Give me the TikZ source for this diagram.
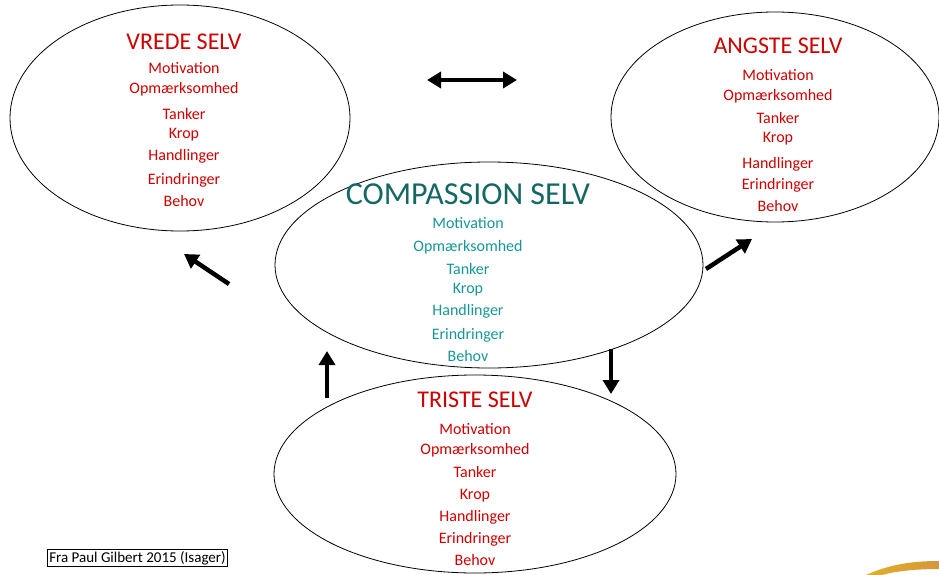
\documentclass[tikz,border=0pt]{standalone}
\usepackage{fontspec}
\setmainfont{Carlito}
\usepackage{tikz}
\usetikzlibrary{arrows.meta,shapes.geometric}

\definecolor{selfred}{RGB}{204,0,0}
\definecolor{compdark}{RGB}{20,104,100}
\definecolor{complight}{RGB}{24,150,150}
\definecolor{goldA}{RGB}{226,176,40}
\definecolor{goldB}{RGB}{214,150,60}

\begin{document}
\begin{tikzpicture}[x=1pt,y=-1pt,
    selfring/.style={draw, ellipse, inner sep=0pt, line width=0.8pt},
    title/.style={font=\fontsize{24}{27}\selectfont, text=selfred},
    item/.style={font=\fontsize{16}{18}\selectfont, text=selfred},
    bigarrow/.style={line width=4.5pt, -{Triangle[width=16pt,length=14pt]}}]

  \useasboundingbox (0,0) rectangle (939,575);

  % The four selves
  \node[selfring, minimum width=340, minimum height=226] (vrede) at (180,118) {};
  \node[selfring, minimum width=328, minimum height=210] (angste) at (775,117) {};
  \node[selfring, minimum width=428, minimum height=206] (comp) at (489,265) {};
  \node[selfring, minimum width=402, minimum height=198] (triste) at (475,474) {};

  % Titles
  \node[title] (vredet) at (184,42) {VREDE SELV};
  \node[title] (angstet) at (778,46) {ANGSTE SELV};
  \node[title, font=\fontsize{32}{35}\selectfont, text=compdark] (compt) at (468,194) {COMPASSION SELV};
  \node[title] (tristet) at (475,400) {TRISTE SELV};

  % Lists
  \foreach \txt/\y [count=\i] in {Motivation/68, Opmærksomhed/89, Tanker/114, Krop/135,
      Handlinger/156, Erindringer/180, Behov/201}
    \node[item] (vrede\i) at (184,\y) {\txt};
  \foreach \txt/\y [count=\i] in {Motivation/75, Opmærksomhed/96, Tanker/118, Krop/139,
      Handlinger/164, Erindringer/185, Behov/206}
    \node[item] (angste\i) at (778,\y) {\txt};
  \foreach \txt/\y [count=\i] in {Motivation/223, Opmærksomhed/247, Tanker/269, Krop/290,
      Handlinger/311, Erindringer/335, Behov/356}
    \node[item, text=complight] (comp\i) at (468,\y) {\txt};
  \foreach \txt/\y [count=\i] in {Motivation/429, Opmærksomhed/450, Tanker/472, Krop/496,
      Handlinger/517, Erindringer/539, Behov/560}
    \node[item] (triste\i) at (475,\y) {\txt};

  % Arrow ends
  \coordinate (dblL) at (427,80);
  \coordinate (dblR) at (517,80);
  \coordinate (ulTail) at (229,284);
  \coordinate (ulHead) at (184,254);
  \coordinate (urTail) at (706,269);
  \coordinate (urHead) at (752,239);
  \coordinate (upTail) at (327,398);
  \coordinate (upHead) at (327,351);
  \coordinate (dnTail) at (611,349);
  \coordinate (dnHead) at (611,394);

  % Arrows
  \draw[bigarrow, {Triangle[width=16pt,length=14pt]}-{Triangle[width=16pt,length=14pt]}] (dblL) -- (dblR);
  \draw[bigarrow] (ulTail) -- (ulHead);
  \draw[bigarrow] (urTail) -- (urHead);
  \draw[bigarrow] (upTail) -- (upHead);
  \draw[bigarrow] (dnTail) -- (dnHead);

  % Source
  \node[draw, line width=0.6pt, inner sep=1.5pt, font=\fontsize{15}{17}\selectfont] (src) at (137.5,558) {Fra Paul Gilbert 2015 (Isager)};

  % Corner decoration
  \shade[left color=goldA, right color=goldB]
    (866,575) .. controls (892,563) and (918,561) .. (939,561)
    -- (939,569) .. controls (917,569) and (896,571) .. (882,575) -- cycle;

\end{tikzpicture}
\end{document}
